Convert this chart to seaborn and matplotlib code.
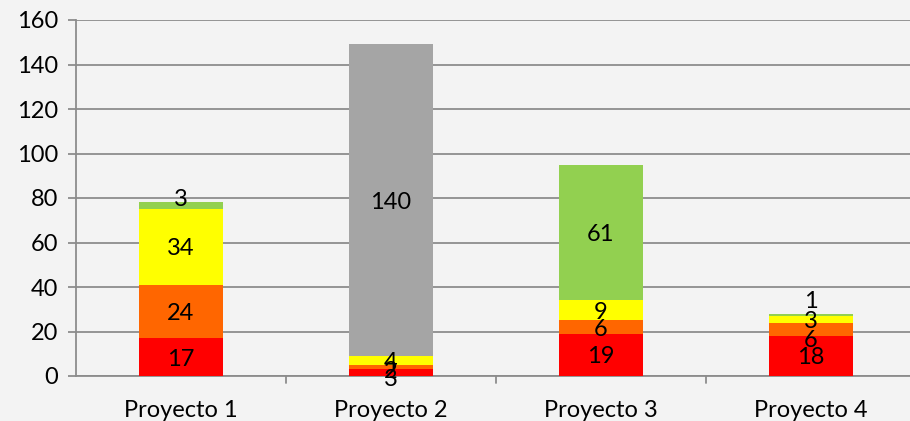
import matplotlib
matplotlib.use("Agg")
import matplotlib.pyplot as plt
import seaborn as sns
import numpy as np

categories = ["Proyecto 1", "Proyecto 2", "Proyecto 3", "Proyecto 4"]
rojo = [17, 3, 19, 18]
naranja = [24, 2, 6, 6]
amarillo = [34, 4, 9, 3]
verde = [3, 0, 61, 1]
gris = [0, 140, 0, 0]
series = [rojo, naranja, amarillo, verde, gris]
colors = ["#FF0000", "#FF6600", "#FFFF00", "#92D050", "#A5A5A5"]
yticks = [0, 20, 40, 60, 80, 100, 120, 140, 160]

# label nudges in pixels (series index, category index) -> dy
nudges = {(3, 0): 8, (3, 3): 15, (1, 3): -9, (0, 1): -5, (1, 1): -2}

sns.set_theme(style="white")
plt.rcParams["font.family"] = ["Lato", "DejaVu Sans"]

bg = "#f3f3f3"
fs = 17
fig = plt.figure(figsize=(9.10, 4.21), dpi=100, facecolor=bg)
ax = fig.add_axes([76/910, 1-376/421, 840/910, 356/421])
ax.set_facecolor(bg)

bottoms = np.zeros(len(categories))
for k, (vals, c) in enumerate(zip(series, colors)):
    vals = np.array(vals, dtype=float)
    sns.barplot(x=categories, y=vals, bottom=bottoms, color=c, width=0.4,
                ax=ax, saturation=1, linewidth=0, zorder=3)
    for i, v in enumerate(vals):
        if v > 0:
            ax.annotate(f"{int(v)}", (i, bottoms[i] + v/2), xytext=(0, nudges.get((k, i), 0) - 2),
                        textcoords="offset pixels", ha="center", va="center",
                        fontsize=fs, color="black", zorder=5)
    bottoms += vals

ax.set_ylim(0, 160)
ax.set_xlim(-0.5, 3.5)
ax.set_yticks(yticks)
ax.set_yticklabels([str(t) for t in yticks], fontsize=fs, color="black")
ax.tick_params(axis="x", labelsize=fs, colors="black", length=0, pad=17)
ax.tick_params(axis="y", length=6, width=1.3, color="#8c8c8c", pad=7, direction="out", left=True)
ax.grid(axis="y", color="#8c8c8c", linewidth=1.3, zorder=0)
ax.set_axisbelow(True)
for s in ["top", "right"]:
    ax.spines[s].set_visible(False)
ax.spines["left"].set_color("#8c8c8c")
ax.spines["left"].set_linewidth(1.3)
ax.spines["bottom"].set_color("#8c8c8c")
ax.spines["bottom"].set_linewidth(1.3)
ax.set_xlabel("")
ax.set_ylabel("")
for b in [0.5, 1.5, 2.5]:
    ax.plot([b, b], [0, -3.2], color="#8c8c8c", linewidth=1.3, clip_on=False, zorder=2)

fig.savefig("out.png", dpi=100, facecolor=bg)
